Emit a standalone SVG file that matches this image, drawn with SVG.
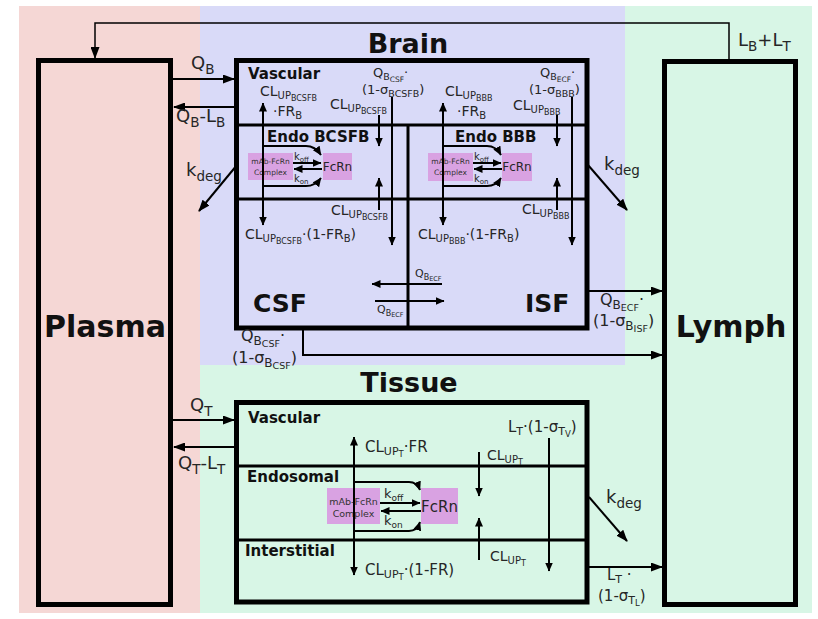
<svg xmlns="http://www.w3.org/2000/svg" width="818" height="619" viewBox="0 0 818 619">
<style>
text{font-family:"DejaVu Sans",Verdana,sans-serif;fill:#262626}
.ttl{font-weight:bold;fill:#111}
.big{font-size:30px}
.hd{font-size:27px}
.cmp{font-size:25px}
.sec{font-size:15px}
.lg{font-size:18px}
.md{font-size:14px}
.mt{font-size:15px}
.sm{font-size:13px}
.fl{font-size:16px}
.xs{font-size:11px}
.a1{font-size:13.5px;baseline-shift:-4.5px}
.b1{font-size:10px;baseline-shift:-3px}
.b2{font-size:8px;baseline-shift:-2px}
.e1{font-size:11px;baseline-shift:-3px}
.e2{font-size:8.5px;baseline-shift:-2px}
.c1{font-size:9.5px;baseline-shift:-3px}
.c2{font-size:7.5px;baseline-shift:-2px}
.f1{font-size:12px;baseline-shift:-3.5px}
.f2{font-size:9.5px;baseline-shift:-2.5px}
.d1{font-size:8px;baseline-shift:-2.5px}
.d2{font-size:6.5px;baseline-shift:-1.5px}
.box{fill:none;stroke:#000;stroke-width:5}
.div{stroke:#000;stroke-width:3;fill:none}
.cx{fill:#d9a2e2}
.cxt{font-size:7.5px;fill:#333}
.cxt2{font-size:9.5px;fill:#333}
.ln{stroke:#000;stroke-width:2;fill:none}
.lt{stroke:#000;stroke-width:1.5;fill:none}
.arr{marker-end:url(#ah)}
.ars{marker-end:url(#as)}
</style>
<defs>
<marker id="ah" viewBox="0 0 12 9" refX="11" refY="4.5" markerWidth="12" markerHeight="9" markerUnits="userSpaceOnUse" orient="auto-start-reverse"><path d="M0,0 L12,4.5 L0,9 z" fill="#000"/></marker>
<marker id="as" viewBox="0 0 9 8" refX="8.5" refY="4" markerWidth="9" markerHeight="8" markerUnits="userSpaceOnUse" orient="auto-start-reverse"><path d="M0,0 L9,4 L0,8 z" fill="#000"/></marker>
</defs>

<g id="background">
<rect x="19" y="6" width="181" height="607" fill="#f5d7d5"/>
<rect x="200" y="6" width="425" height="359" fill="#d9daf8"/>
<rect x="625" y="6" width="187" height="607" fill="#d8f6e6"/>
<rect x="200" y="365" width="425" height="248" fill="#d8f6e6"/>
</g>

<g id="plasma">
<rect class="box" x="38.5" y="60.5" width="132" height="544"/>
<text class="ttl big" x="105" y="337" text-anchor="middle">Plasma</text>
</g>

<g id="lymph">
<rect class="box" x="664.5" y="61.5" width="131" height="543"/>
<text class="ttl big" x="731" y="337" text-anchor="middle">Lymph</text>
</g>

<g id="brain">
<text class="ttl hd" x="408" y="53" text-anchor="middle">Brain</text>
<rect class="box" x="236.5" y="60.5" width="350.5" height="267.5"/>
<line class="div" x1="236" y1="125" x2="587" y2="125"/>
<line class="div" x1="236" y1="199" x2="587" y2="199"/>
<line class="div" x1="408" y1="125" x2="408" y2="328"/>
<text class="ttl sec" x="248" y="79">Vascular</text>
<text class="ttl sec" x="267" y="142">Endo BCSFB</text>
<text class="ttl sec" x="455" y="142">Endo BBB</text>
<text class="ttl cmp" x="253" y="312">CSF</text>
<text class="ttl cmp" x="525" y="312">ISF</text>
<g id="brain-bcsfb-complex">
<rect class="cx" x="248" y="153" width="45" height="27"/>
<text class="cxt" x="270.5" y="164" text-anchor="middle">mAb-FcRn</text>
<text class="cxt" x="270.5" y="175" text-anchor="middle">Complex</text>
</g>
<g id="brain-bcsfb-fcrn">
<rect class="cx" x="323" y="153" width="29" height="27"/>
<text x="337.5" y="171" text-anchor="middle" font-size="12">FcRn</text>
</g>
<g id="brain-bbb-complex">
<rect class="cx" x="428" y="153" width="45" height="28"/>
<text class="cxt" x="450.5" y="164" text-anchor="middle">mAb-FcRn</text>
<text class="cxt" x="450.5" y="175" text-anchor="middle">Complex</text>
</g>
<g id="brain-bbb-fcrn">
<rect class="cx" x="502" y="153" width="30" height="28"/>
<text x="517" y="171" text-anchor="middle" font-size="12">FcRn</text>
</g>
</g>

<g id="tissue">
<text class="ttl hd" x="409" y="392" text-anchor="middle">Tissue</text>
<rect class="box" x="236.5" y="402.5" width="350.5" height="199.5"/>
<line class="div" x1="236" y1="466" x2="587" y2="466"/>
<line class="div" x1="236" y1="540" x2="587" y2="540"/>
<text class="ttl sec" x="248" y="423">Vascular</text>
<text class="ttl sec" x="247" y="482">Endosomal</text>
<text class="ttl sec" x="245" y="556">Interstitial</text>
<g id="tissue-complex">
<rect class="cx" x="327" y="488" width="53" height="36"/>
<text class="cxt2" x="353.5" y="505" text-anchor="middle">mAb-FcRn</text>
<text class="cxt2" x="353.5" y="517" text-anchor="middle">Complex</text>
</g>
<g id="tissue-fcrn">
<rect class="cx" x="421" y="488" width="37" height="36"/>
<text x="439.5" y="512" text-anchor="middle" font-size="15">FcRn</text>
</g>
</g>

<g id="connectors">
<polyline class="lt arr" points="729,60 729,23 95,23 95,58"/>
<line class="ln arr" x1="172" y1="79" x2="234" y2="79"/>
<line class="ln arr" x1="235" y1="107" x2="174" y2="107"/>
<line class="ln arr" x1="237" y1="165" x2="199" y2="211"/>
<line class="ln arr" x1="588" y1="165" x2="627" y2="210"/>
<line class="ln ars" x1="263" y1="186" x2="263" y2="103"/>
<line class="ln ars" x1="263" y1="140" x2="263" y2="225"/>
<path class="ln ars" d="M263,146 H306 Q315,146 321,155"/>
<path class="ln ars" d="M263,186 H306 Q315,186 321,178"/>
<line class="ln ars" x1="293" y1="163" x2="321" y2="163"/>
<line class="ln ars" x1="322" y1="169" x2="294" y2="169"/>
<line class="ln ars" x1="379" y1="115" x2="379" y2="146"/>
<line class="ln ars" x1="379" y1="210" x2="379" y2="178"/>
<line class="ln ars" x1="392" y1="97" x2="392" y2="245"/>
<line class="ln ars" x1="443" y1="186" x2="443" y2="103"/>
<line class="ln ars" x1="443" y1="140" x2="443" y2="225"/>
<path class="ln ars" d="M443,146 H487 Q496,146 501,155"/>
<path class="ln ars" d="M443,186 H487 Q496,186 501,178"/>
<line class="ln ars" x1="473" y1="163" x2="501" y2="163"/>
<line class="ln ars" x1="502" y1="169" x2="474" y2="169"/>
<line class="ln ars" x1="557" y1="115" x2="557" y2="146"/>
<line class="ln ars" x1="557" y1="210" x2="557" y2="178"/>
<line class="ln ars" x1="572" y1="97" x2="572" y2="245"/>
<line class="ln ars" x1="442" y1="284" x2="372" y2="284"/>
<line class="ln ars" x1="375" y1="301" x2="444" y2="301"/>
<line class="ln arr" x1="589" y1="291" x2="662" y2="291"/>
<polyline class="ln arr" points="303,330 303,355 662,355"/>
<line class="ln arr" x1="172" y1="420" x2="234" y2="420"/>
<line class="ln arr" x1="235" y1="447" x2="174" y2="447"/>
<line class="ln arr" x1="589" y1="497" x2="627" y2="541"/>
<line class="ln arr" x1="589" y1="567" x2="662" y2="567"/>
<line class="ln ars" x1="354" y1="531" x2="354" y2="437"/>
<line class="ln ars" x1="354" y1="478" x2="354" y2="575"/>
<path class="ln ars" d="M354,482 H409 Q417,482 420,490"/>
<path class="ln ars" d="M354,531 H409 Q417,531 420,522"/>
<line class="ln ars" x1="380" y1="503" x2="420" y2="503"/>
<line class="ln ars" x1="421" y1="511" x2="381" y2="511"/>
<line class="ln ars" x1="479" y1="452" x2="479" y2="496"/>
<line class="ln ars" x1="479" y1="560" x2="479" y2="518"/>
<line class="ln ars" x1="549" y1="438" x2="549" y2="571"/>
</g>

<g id="labels">
<text class="lg" x="738" y="46">L<tspan class="a1">B</tspan>+L<tspan class="a1">T</tspan></text>
<text class="lg" x="191" y="69">Q<tspan class="a1">B</tspan></text>
<text class="lg" x="176" y="122">Q<tspan class="a1">B</tspan>-L<tspan class="a1">B</tspan></text>
<text class="lg" x="186" y="176">k<tspan class="a1">deg</tspan></text>
<text class="lg" x="604" y="170">k<tspan class="a1">deg</tspan></text>

<text class="md" x="260" y="96">CL<tspan class="b1">UP<tspan class="b2">BCSFB</tspan></tspan></text>
<text class="md" x="273" y="116">·FR<tspan class="b1">B</tspan></text>
<text class="md" x="330" y="109">CL<tspan class="b1">UP<tspan class="b2">BCSFB</tspan></tspan></text>
<text class="sm" x="373" y="77">Q<tspan class="c1">B<tspan class="c2">CSF</tspan></tspan>·</text>
<text class="sm" x="362" y="94">(1-σ<tspan class="c1">BCSFB</tspan>)</text>
<text x="294" y="160" font-size="10">k<tspan font-size="7" baseline-shift="-2">off</tspan></text>
<text x="294" y="182" font-size="10">k<tspan font-size="7" baseline-shift="-2">on</tspan></text>
<text class="md" x="245" y="239">CL<tspan class="b1">UP<tspan class="b2">BCSFB</tspan></tspan>·(1-FR<tspan class="b1">B</tspan>)</text>
<text class="md" x="331" y="215">CL<tspan class="b1">UP<tspan class="b2">BCSFB</tspan></tspan></text>

<text class="md" x="445" y="96">CL<tspan class="b1">UP<tspan class="b2">BBB</tspan></tspan></text>
<text class="md" x="457" y="116">·FR<tspan class="b1">B</tspan></text>
<text class="md" x="513" y="110">CL<tspan class="b1">UP<tspan class="b2">BBB</tspan></tspan></text>
<text class="sm" x="540" y="77">Q<tspan class="c1">B<tspan class="c2">ECF</tspan></tspan>·</text>
<text class="sm" x="529" y="94">(1-σ<tspan class="c1">BBB</tspan>)</text>
<text x="474" y="160" font-size="10">k<tspan font-size="7" baseline-shift="-2">off</tspan></text>
<text x="474" y="182" font-size="10">k<tspan font-size="7" baseline-shift="-2">on</tspan></text>
<text class="md" x="418" y="239">CL<tspan class="b1">UP<tspan class="b2">BBB</tspan></tspan>·(1-FR<tspan class="b1">B</tspan>)</text>
<text class="md" x="522" y="214">CL<tspan class="b1">UP<tspan class="b2">BBB</tspan></tspan></text>

<text class="xs" x="415" y="277">Q<tspan class="d1">B<tspan class="d2">ECF</tspan></tspan></text>
<text class="xs" x="377" y="313">Q<tspan class="d1">B<tspan class="d2">ECF</tspan></tspan></text>

<text class="fl" x="600" y="305">Q<tspan class="f1">B<tspan class="f2">ECF</tspan></tspan>·</text>
<text class="fl" x="593" y="326">(1-σ<tspan class="f1">B<tspan class="f2">ISF</tspan></tspan>)</text>
<text class="fl" x="241" y="341">Q<tspan class="f1">B<tspan class="f2">CSF</tspan></tspan>·</text>
<text class="fl" x="232" y="363">(1-σ<tspan class="f1">B<tspan class="f2">CSF</tspan></tspan>)</text>

<text class="lg" x="190" y="411">Q<tspan class="a1">T</tspan></text>
<text class="lg" x="178" y="469">Q<tspan class="a1">T</tspan>-L<tspan class="a1">T</tspan></text>
<text class="lg" x="606" y="503">k<tspan class="a1">deg</tspan></text>

<text class="mt" x="365" y="452">CL<tspan class="e1">UP<tspan class="e2">T</tspan></tspan>·FR</text>
<text class="md" x="487" y="460">CL<tspan class="b1">UP<tspan class="b2">T</tspan></tspan></text>
<text class="mt" x="508" y="432">L<tspan class="e1">T</tspan>·(1-σ<tspan class="e1">T<tspan class="e2">V</tspan></tspan>)</text>
<text x="384" y="498" font-size="13">k<tspan font-size="9" baseline-shift="-3">off</tspan></text>
<text x="384" y="525" font-size="13">k<tspan font-size="9" baseline-shift="-3">on</tspan></text>
<text class="md" x="490" y="561">CL<tspan class="b1">UP<tspan class="b2">T</tspan></tspan></text>
<text class="mt" x="365" y="575">CL<tspan class="e1">UP<tspan class="e2">T</tspan></tspan>·(1-FR)</text>
<text class="mt" x="607" y="580">L<tspan class="e1">T</tspan> ·</text>
<text class="mt" x="598" y="601">(1-σ<tspan class="e1">T<tspan class="e2">L</tspan></tspan>)</text>
</g>
</svg>
